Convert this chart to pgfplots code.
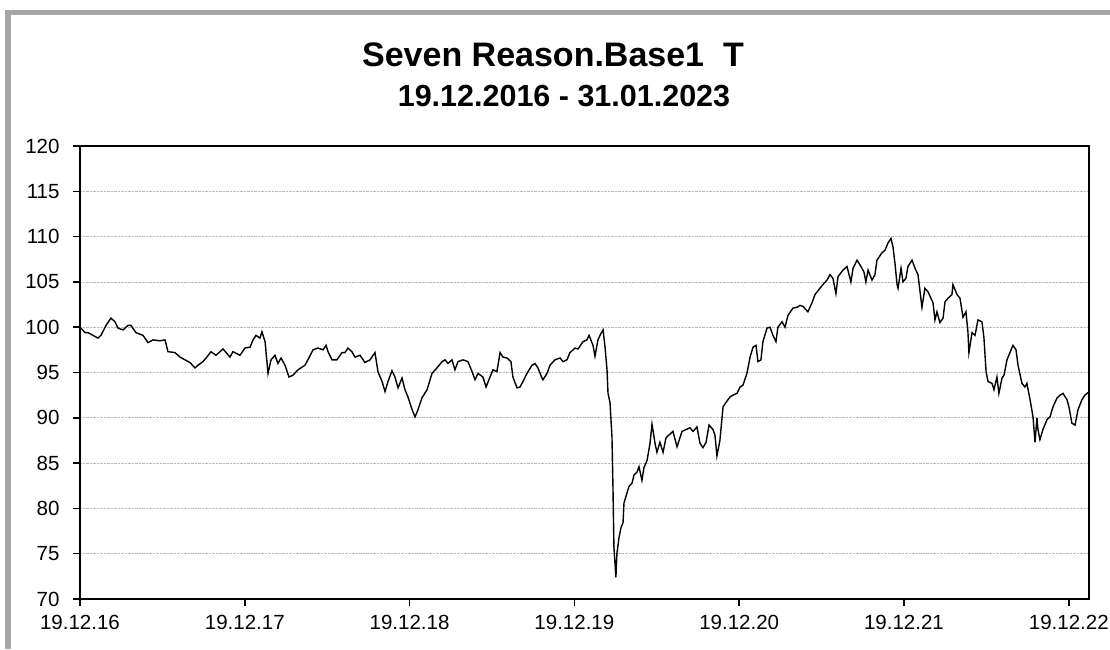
\documentclass[border=0pt]{standalone}
\usepackage{pgfplots}
\pgfplotsset{compat=1.18}
\usepackage{fontspec}
\setmainfont{Liberation Sans}
\begin{document}
\begin{tikzpicture}
\useasboundingbox (0pt,0pt) rectangle (1110pt,649pt);
\fill[gray!70] (5pt,0pt) rectangle (11pt,639pt);
\fill[gray!70] (5pt,634pt) rectangle (1110pt,639pt);
\node[anchor=base,font=\bfseries\fontsize{34}{38}\selectfont] at (553pt,582pt) {Seven Reason.Base1\ \ T};
\node[anchor=base,font=\bfseries\fontsize{30.5}{34}\selectfont] at (564pt,542pt) {19.12.2016 - 31.01.2023};
\begin{axis}[
  at={(80pt,50pt)}, anchor=south west,
  width=1009pt, height=453pt, scale only axis,
  xmin=0, xmax=6.123, ymin=70, ymax=120,
  xtick={0,1,2,3,4,5,6},
  xticklabels={19.12.16,19.12.17,19.12.18,19.12.19,19.12.20,19.12.21,19.12.22},
  ytick={70,75,...,120},
  xtick align=outside, ytick align=outside, major tick length=7pt,
  xtick pos=bottom, ytick pos=left,
  every tick/.style={black, line width=1.5pt},
  axis line style={black, line width=1.8pt},
  ymajorgrids, major grid style={densely dotted, gray!55, line width=0.8pt},
  /pgf/number format/assume math mode=true,
  ticklabel style={font=\fontsize{20.5}{23}\selectfont},
  yticklabel style={xshift=-10pt},
  xticklabel style={yshift=-6pt},
  clip=false,
]
\addplot[black, line width=1.4pt] table {
x y
0.006 99.9
0.030 99.4
0.049 99.4
0.079 99.1
0.109 98.8
0.127 99.1
0.158 100.2
0.188 101.0
0.212 100.6
0.231 99.9
0.261 99.7
0.291 100.2
0.309 100.2
0.340 99.4
0.382 99.1
0.413 98.3
0.443 98.6
0.485 98.5
0.516 98.6
0.534 97.3
0.576 97.2
0.607 96.7
0.637 96.4
0.667 96.1
0.698 95.5
0.716 95.8
0.746 96.2
0.765 96.6
0.795 97.3
0.825 96.9
0.868 97.6
0.910 96.7
0.928 97.3
0.971 96.9
1.001 97.7
1.032 97.8
1.050 98.6
1.068 99.1
1.092 98.8
1.104 99.5
1.123 98.4
1.141 94.9
1.159 96.4
1.183 96.9
1.201 96.0
1.220 96.6
1.244 95.8
1.268 94.5
1.292 94.7
1.323 95.3
1.365 95.8
1.383 96.4
1.414 97.5
1.444 97.7
1.475 97.5
1.493 98.0
1.505 97.3
1.529 96.4
1.559 96.4
1.590 97.2
1.608 97.2
1.626 97.7
1.650 97.3
1.669 96.7
1.699 96.9
1.729 96.1
1.760 96.4
1.790 97.2
1.808 95.1
1.833 94.0
1.851 92.9
1.869 94.0
1.893 95.2
1.911 94.5
1.930 93.3
1.954 94.4
1.972 93.1
1.990 92.3
2.015 90.9
2.033 90.1
2.051 90.9
2.075 92.2
2.106 93.1
2.136 94.9
2.166 95.5
2.197 96.2
2.215 96.4
2.233 96.0
2.257 96.4
2.275 95.3
2.294 96.2
2.324 96.4
2.354 96.2
2.379 95.1
2.397 94.2
2.415 94.9
2.445 94.5
2.464 93.4
2.488 94.5
2.506 95.3
2.530 95.1
2.549 97.2
2.567 96.7
2.591 96.6
2.615 96.2
2.627 94.5
2.652 93.3
2.670 93.4
2.688 94.0
2.712 94.9
2.743 95.8
2.761 96.0
2.779 95.5
2.803 94.4
2.809 94.2
2.834 94.9
2.852 95.8
2.882 96.4
2.913 96.6
2.931 96.2
2.955 96.4
2.973 97.2
3.004 97.7
3.022 97.6
3.052 98.4
3.076 98.6
3.089 99.1
3.113 98.0
3.125 96.8
3.143 98.6
3.161 99.3
3.174 99.7
3.186 97.8
3.198 95.3
3.204 92.7
3.216 91.7
3.228 87.9
3.234 82.4
3.240 75.7
3.252 72.4
3.258 75.0
3.271 76.8
3.283 77.9
3.295 78.4
3.301 80.6
3.319 81.7
3.331 82.4
3.350 82.8
3.362 83.7
3.380 84.0
3.392 84.6
3.410 83.1
3.422 84.5
3.441 85.3
3.459 87.2
3.471 89.3
3.489 87.2
3.501 86.2
3.519 87.3
3.538 86.2
3.556 87.8
3.574 88.1
3.598 88.5
3.623 86.8
3.653 88.5
3.677 88.7
3.701 88.9
3.720 88.5
3.744 89.0
3.762 87.2
3.780 86.7
3.799 87.3
3.817 89.2
3.841 88.7
3.853 88.1
3.865 85.8
3.883 87.5
3.902 91.2
3.920 91.7
3.944 92.3
3.962 92.5
3.987 92.7
4.005 93.4
4.023 93.6
4.047 94.9
4.066 96.7
4.084 97.8
4.102 98.0
4.114 96.2
4.132 96.4
4.144 98.4
4.169 99.9
4.187 100.0
4.205 99.1
4.223 98.4
4.235 100.0
4.260 100.6
4.278 100.0
4.296 101.3
4.326 102.1
4.351 102.2
4.369 102.4
4.387 102.3
4.417 101.7
4.442 102.7
4.460 103.6
4.490 104.3
4.508 104.7
4.533 105.2
4.551 105.8
4.569 105.4
4.587 103.7
4.600 105.6
4.630 106.3
4.654 106.7
4.678 105.0
4.691 106.5
4.715 107.4
4.739 106.7
4.757 106.1
4.769 105.0
4.782 106.3
4.806 105.2
4.824 105.8
4.836 107.4
4.866 108.2
4.885 108.5
4.903 109.3
4.921 109.8
4.933 108.9
4.945 107.1
4.958 104.7
4.964 104.3
4.982 106.5
4.994 105.0
5.012 105.4
5.024 106.7
5.049 107.4
5.067 106.5
5.085 105.8
5.109 102.2
5.127 104.3
5.146 103.9
5.176 102.7
5.188 100.8
5.200 101.7
5.218 100.5
5.237 101.0
5.249 102.8
5.267 103.2
5.291 103.6
5.297 104.7
5.322 103.6
5.340 103.2
5.358 101.1
5.376 101.7
5.388 99.5
5.394 97.2
5.413 99.4
5.431 99.1
5.449 100.8
5.473 100.6
5.485 98.9
5.498 95.1
5.510 94.0
5.534 93.8
5.546 93.1
5.564 94.5
5.576 92.7
5.595 94.4
5.607 94.7
5.625 96.4
5.643 97.2
5.661 98.0
5.680 97.5
5.692 95.8
5.716 93.8
5.734 93.4
5.746 93.8
5.765 92.0
5.783 90.1
5.795 87.3
5.807 90.0
5.813 88.7
5.825 87.6
5.843 88.7
5.868 89.8
5.886 90.1
5.904 91.2
5.929 92.2
5.947 92.5
5.965 92.7
5.989 92.0
6.001 91.2
6.019 89.4
6.038 89.2
6.056 90.9
6.080 92.0
6.098 92.5
6.117 92.8
};
\end{axis}
\end{tikzpicture}
\end{document}
